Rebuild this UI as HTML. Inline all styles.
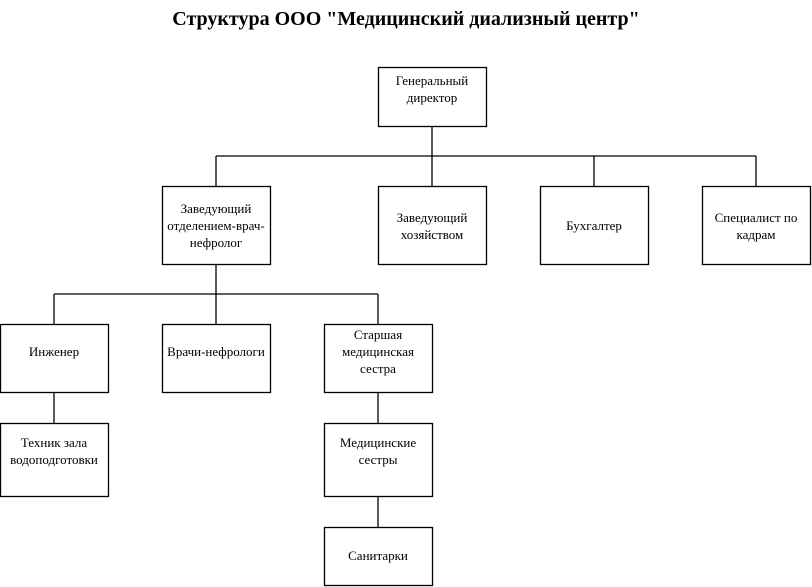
<!DOCTYPE html>
<html><head><meta charset="utf-8"><style>
html,body{margin:0;padding:0;background:#fff;}
svg{display:block;}
text{font-family:"Liberation Serif","DejaVu Serif",serif;font-size:13px;fill:#000;text-anchor:middle;}
.t{font-size:20px;font-weight:bold;}
rect{fill:#fff;stroke:#000;stroke-width:1.3;}
line{stroke:#000;stroke-width:1.3;}
</style></head><body>
<svg width="812" height="587" viewBox="0 0 812 587">
<text class="t" x="406" y="25">Структура ООО "Медицинский диализный центр"</text>
<line x1="432" y1="126" x2="432" y2="156"/>
<line x1="216" y1="156" x2="756" y2="156"/>
<line x1="216" y1="156" x2="216" y2="186"/>
<line x1="432" y1="156" x2="432" y2="186"/>
<line x1="594" y1="156" x2="594" y2="186"/>
<line x1="756" y1="156" x2="756" y2="186"/>
<line x1="216" y1="264" x2="216" y2="324"/>
<line x1="54" y1="294" x2="378" y2="294"/>
<line x1="54" y1="294" x2="54" y2="324"/>
<line x1="378" y1="294" x2="378" y2="324"/>
<line x1="54" y1="392" x2="54" y2="423"/>
<line x1="378" y1="392" x2="378" y2="423"/>
<line x1="378" y1="496" x2="378" y2="527"/>
<rect x="378.5" y="67.5" width="108" height="59"/>
<text x="432" y="85">Генеральный</text><text x="432" y="102">директор</text>
<rect x="162.5" y="186.5" width="108" height="78"/>
<text x="216" y="213">Заведующий</text><text x="216" y="230">отделением-врач-</text><text x="216" y="247">нефролог</text>
<rect x="378.5" y="186.5" width="108" height="78"/>
<text x="432" y="222">Заведующий</text><text x="432" y="239">хозяйством</text>
<rect x="540.5" y="186.5" width="108" height="78"/>
<text x="594" y="230">Бухгалтер</text>
<rect x="702.5" y="186.5" width="108" height="78"/>
<text x="756" y="222">Специалист по</text><text x="756" y="239">кадрам</text>
<rect x="0.5" y="324.5" width="108" height="68"/>
<text x="54" y="356">Инженер</text>
<rect x="162.5" y="324.5" width="108" height="68"/>
<text x="216" y="356">Врачи-нефрологи</text>
<rect x="324.5" y="324.5" width="108" height="68"/>
<text x="378" y="339">Старшая</text><text x="378" y="356">медицинская</text><text x="378" y="373">сестра</text>
<rect x="0.5" y="423.5" width="108" height="73"/>
<text x="54" y="447">Техник зала</text><text x="54" y="464">водоподготовки</text>
<rect x="324.5" y="423.5" width="108" height="73"/>
<text x="378" y="447">Медицинские</text><text x="378" y="464">сестры</text>
<rect x="324.5" y="527.5" width="108" height="58"/>
<text x="378" y="560">Санитарки</text>
</svg>
</body></html>
